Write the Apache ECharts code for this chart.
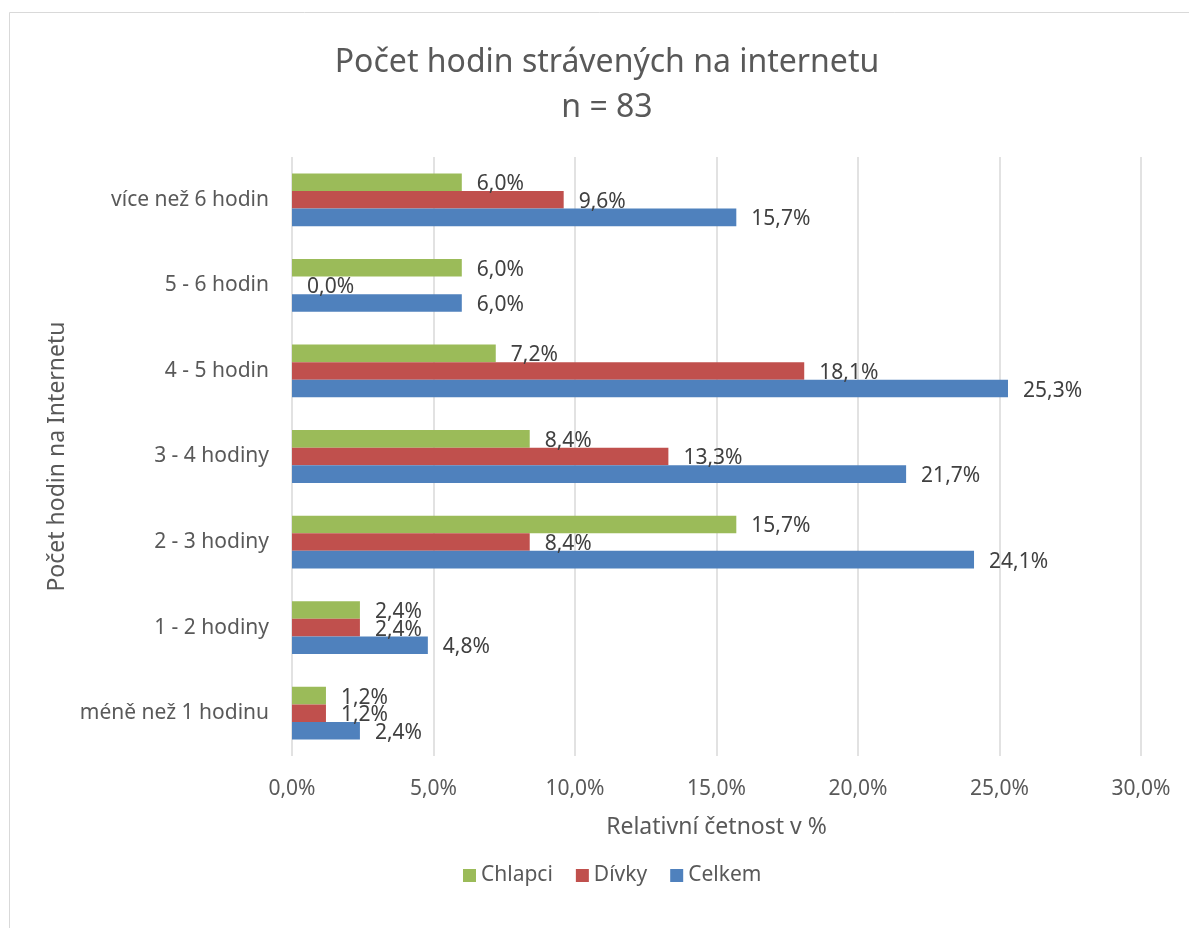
<!DOCTYPE html>
<html>
<head>
<meta charset="utf-8">
<script src="https://cdn.jsdelivr.net/npm/echarts@6/dist/echarts.min.js"></script>
<style>
html,body{margin:0;padding:0;background:#fff;}
#chart{width:1189px;height:928px;}
</style>
</head>
<body>
<div id="chart"></div>
<script>
const categories = ['méně než 1 hodinu', '1 - 2 hodiny', '2 - 3 hodiny', '3 - 4 hodiny', '4 - 5 hodin', '5 - 6 hodin', 'více než 6 hodin'];
const chlapci = [1.2, 2.4, 15.7, 8.4, 7.2, 6.0, 6.0];
const divky = [1.2, 2.4, 8.4, 13.3, 18.1, 0.0, 9.6];
const celkem = [2.4, 4.8, 24.1, 21.7, 25.3, 6.0, 15.7];
const seriesNames = ['Chlapci', 'Dívky', 'Celkem'];
const xTicks = [0, 5, 10, 15, 20, 25, 30];

const FONT = 'Noto Sans';
const fmt = v => Number(v).toFixed(1).replace('.', ',') + '%';

const chart = echarts.init(document.getElementById('chart'), null, {renderer: 'canvas'});

function barSeries(name, data, color) {
  return {
    name: name,
    type: 'bar',
    data: data,
    barWidth: 17.6,
    barGap: '0%',
    itemStyle: {color: color},
    label: {
      show: true,
      position: 'right',
      distance: 15,
      offset: [0, 2],
      color: '#404040',
      fontFamily: FONT,
      fontSize: 21,
      formatter: p => fmt(p.value)
    }
  };
}

chart.setOption({
  animation: false,
  backgroundColor: '#fff',
  textStyle: {fontFamily: FONT},
  graphic: [{
    type: 'rect',
    shape: {x: 9.5, y: 12.5, width: 1200, height: 1000},
    style: {fill: 'none', stroke: '#d9d9d9', lineWidth: 1},
    silent: true, z: -1
  }],
  title: {
    text: 'Počet hodin strávených na internetu\nn = 83',
    left: 602,
    textAlign: 'center',
    top: 35,
    textStyle: {
      fontFamily: FONT,
      fontSize: 32,
      fontWeight: 'normal',
      color: '#595959',
      lineHeight: 45
    }
  },
  legend: {
    data: seriesNames,
    left: 458,
    top: 860,
    itemWidth: 13,
    itemHeight: 13,
    itemGap: 23,
    icon: 'rect',
    textStyle: {fontFamily: FONT, fontSize: 21, color: '#595959'}
  },
  grid: {left: 292, right: 48, top: 157, bottom: 172, containLabel: false},
  xAxis: {
    type: 'value',
    min: xTicks[0],
    max: xTicks[xTicks.length - 1],
    interval: 5,
    name: 'Relativní četnost v %',
    nameLocation: 'middle',
    nameGap: 60,
    nameTextStyle: {fontFamily: FONT, fontSize: 23, color: '#595959'},
    axisLine: {show: false},
    axisTick: {show: false},
    axisLabel: {
      margin: 23,
      color: '#595959',
      fontFamily: FONT,
      fontSize: 21,
      formatter: v => fmt(v)
    },
    splitLine: {show: true, lineStyle: {color: '#d9d9d9', width: 1.5}}
  },
  yAxis: {
    type: 'category',
    data: categories,
    name: 'Počet hodin na Internetu',
    nameLocation: 'middle',
    nameGap: 211,
    nameTextStyle: {fontFamily: FONT, fontSize: 23, color: '#595959'},
    axisLine: {show: false},
    axisTick: {show: false},
    axisLabel: {margin: 23, color: '#595959', fontFamily: FONT, fontSize: 21}
  },
  series: [
    barSeries(seriesNames[0], chlapci, '#9BBB59'),
    barSeries(seriesNames[1], divky, '#C0504D'),
    barSeries(seriesNames[2], celkem, '#4F81BD')
  ]
});
</script>
</body>
</html>
